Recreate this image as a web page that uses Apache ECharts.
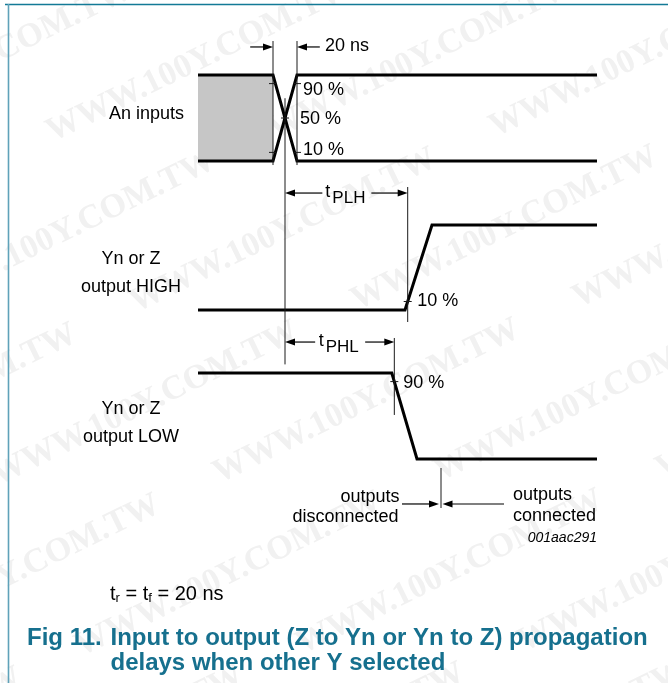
<!DOCTYPE html>
<html>
<head>
<meta charset="utf-8">
<script src="https://cdn.jsdelivr.net/npm/echarts@6/dist/echarts.min.js"></script>
<style>html,body{margin:0;padding:0;background:#fff}#c{width:668px;height:683px}</style>
</head>
<body>
<div id="c"></div>
<script>
// ---------- data (time in ns, level in % of swing) ----------
const timeRange = [-75, 260];
const levelRange = [0, 100];
const inputFallWave = [[-72.5, 100], [-10, 100], [10, 0], [260, 0]];
const inputRiseWave = [[-72.5, 0], [-10, 0], [10, 100], [260, 100]];
const outHighWave   = [[-72.5, 0], [100, 0], [122.5, 100], [260, 100]];
const outLowWave    = [[-72.5, 100], [89, 100], [110, 0], [260, 0]];
const undefinedSpan = [-72.5, -10];
const inputEdgeTimes = [-10, 10];
const inputLevels = [90, 50, 10];
const outHighRef = 10;
const outLowRef = 90;
const switchTime = 130;
const rowLabels = ['An inputs', 'Yn or Z\noutput HIGH', 'Yn or Z\noutput LOW'];
const edgeLabel = '20 ns';

// ---------- layout ----------
const FONT = '"Liberation Sans", Arial, Helvetica, sans-serif';
const gridRows = [{ top: 75, height: 86 }, { top: 225, height: 85 }, { top: 373, height: 86 }];

const chart = echarts.init(document.getElementById('c'));

function crossing(wave, level) {
  for (let i = 0; i < wave.length - 1; i++) {
    const a = wave[i], b = wave[i + 1];
    if (a[1] !== b[1] && (level - a[1]) * (level - b[1]) <= 0) {
      return a[0] + (b[0] - a[0]) * (level - a[1]) / (b[1] - a[1]);
    }
  }
  return null;
}

const waveStyle = { color: '#000', width: 3, join: 'miter' };
const mkLine = (data, gi) => ({
  type: 'line', xAxisIndex: gi, yAxisIndex: gi, data, symbol: 'none', clip: false,
  lineStyle: waveStyle, z: 3, silent: true
});

chart.setOption({
  animation: false,
  backgroundColor: '#fff',
  grid: gridRows.map(g => ({ left: 195, right: 71, top: g.top, height: g.height, containLabel: false })),
  xAxis: gridRows.map((g, i) => ({ type: 'value', gridIndex: i, min: timeRange[0], max: timeRange[1], show: false })),
  yAxis: gridRows.map((g, i) => ({ type: 'value', gridIndex: i, min: levelRange[0], max: levelRange[1], show: false })),
  series: [
    {
      type: 'line', xAxisIndex: 0, yAxisIndex: 0, data: [[undefinedSpan[0], 0]], symbol: 'none',
      lineStyle: { opacity: 0 }, z: 2, silent: true,
      markArea: {
        silent: true, itemStyle: { color: '#c6c6c6' },
        data: [[{ xAxis: undefinedSpan[0], yAxis: 0 }, { xAxis: undefinedSpan[1], yAxis: 100 }]]
      }
    },
    mkLine(inputFallWave, 0),
    mkLine(inputRiseWave, 0),
    mkLine(outHighWave, 1),
    mkLine(outLowWave, 2)
  ]
});

// ---------- annotations through the chart's scales ----------
const P = (g, t, L) => chart.convertToPixel({ gridIndex: g }, [t, L]);
const els = [];
const thin = { stroke: '#1a1a1a', lineWidth: 1 };
function vline(x, y1, y2) { els.push({ type: 'line', z: 100, shape: { x1: x, y1, x2: x, y2 }, style: thin }); }
function tick(x, y) { els.push({ type: 'line', z: 100, shape: { x1: x - 4, y1: y, x2: x + 4, y2: y }, style: thin }); }
function arrow(xTail, xTip, y) {
  const d = Math.sign(xTip - xTail);
  els.push({ type: 'line', z: 100, shape: { x1: xTail, y1: y, x2: xTip - d * 8, y2: y }, style: { stroke: '#000', lineWidth: 1.2 } });
  els.push({ type: 'polygon', z: 100, shape: { points: [[xTip, y], [xTip - d * 10, y - 3.5], [xTip - d * 10, y + 3.5]] }, style: { fill: '#000' } });
}
function txt(s, x, y, extra) {
  els.push({ type: 'text', z: 100, x, y, style: Object.assign({
    text: s, font: '18px ' + FONT, fill: '#000', textAlign: 'left',
    textVerticalAlign: 'middle', verticalAlign: 'middle'
  }, extra || {}) });
}

// watermark (behind, faint), tiled along its own slant
const wmText = 'WWW.100Y.COM.TW';
const th = 26 * Math.PI / 180;
const ux = Math.cos(th), uy = -Math.sin(th), vx = Math.sin(th), vy = Math.cos(th);
for (let j = -4; j < 9; j++) {
  for (let i = -3; i < 4; i++) {
    const a = i * 400 + (j % 2 ? 200 : 0), b = j * 95;
    const cx = 200 + a * ux + b * vx, cy = 60 + a * uy + b * vy;
    if (cx < -250 || cx > 920 || cy < -120 || cy > 800) continue;
    els.push({ type: 'text', z: 0, x: cx, y: cy, rotation: th,
      style: { text: wmText, font: 'bold 34px "Liberation Serif", "DejaVu Serif", serif', fill: '#f1f1f1',
        textAlign: 'center', textVerticalAlign: 'middle', verticalAlign: 'middle' } });
  }
}

// frame
els.push({ type: 'line', z: 100, shape: { x1: 5, y1: 4.5, x2: 668, y2: 4.5 }, style: { stroke: '#137a96', lineWidth: 1.6 } });
els.push({ type: 'line', z: 100, shape: { x1: 8.5, y1: 4, x2: 8.5, y2: 683 }, style: { stroke: '#5fa2b9', lineWidth: 1.6 } });

// input row
const [xe0] = P(0, inputEdgeTimes[0], 0);
const [xe1] = P(0, inputEdgeTimes[1], 0);
const [xmid] = P(0, 0, 0);
const yTop = P(0, 0, 139.5)[1], yBot = P(0, 0, -4.7)[1];
vline(xe0, yTop, yBot);
vline(xe1, yTop, yBot);
const yArrowTop = P(0, 0, 132.6)[1];
arrow(P(0, -29, 0)[0], xe0, yArrowTop);
arrow(P(0, 29, 0)[0], xe1, yArrowTop);
txt(edgeLabel, xe1 + 28, yArrowTop - 0.6);
const y90 = P(0, 0, inputLevels[0])[1], y50 = P(0, 0, inputLevels[1])[1], y10 = P(0, 0, inputLevels[2])[1];
tick(xe0, y90); tick(xe1, y90); tick(xmid, y50); tick(xe0, y10); tick(xe1, y10);
txt(inputLevels[0] + ' %', xe1 + 6, y90 + 6);
txt(inputLevels[1] + ' %', xmid + 15, y50 + 1.5);
txt(inputLevels[2] + ' %', xe1 + 6, y10 - 2);
txt(rowLabels[0], 184, 114, { textAlign: 'right' });

// middle 50% reference line
vline(xmid, P(0, 0, 73)[1], P(2, 0, 110)[1]);

// output HIGH row
const tPLH = crossing(outHighWave, outHighRef);
const [xPLH, yPLH10] = P(1, tPLH, outHighRef);
vline(xPLH, P(1, 0, 144.7)[1], P(1, 0, -14.1)[1]);
tick(xPLH, yPLH10);
txt(outHighRef + ' %', xPLH + 9.5, yPLH10);
const yPLHArrow = P(1, 0, 137.6)[1];
const mPLH = (xmid + xPLH) / 2;
arrow(mPLH - 24, xmid, yPLHArrow);
arrow(mPLH + 25, xPLH, yPLHArrow);
txt('t', mPLH - 21, yPLHArrow - 1);
txt('PLH', mPLH - 14, yPLHArrow + 5, { font: '17px ' + FONT });
const rl1 = rowLabels[1].split('\n');
txt(rl1[0], 131, 259.5, { textAlign: 'center' });
txt(rl1[1], 131, 287, { textAlign: 'center' });

// output LOW row
const tPHL = crossing(outLowWave, outLowRef);
const [xPHL, yPHL90] = P(2, tPHL, outLowRef);
vline(xPHL, P(2, 0, 140.7)[1], P(2, 0, 51.2)[1]);
tick(xPHL, yPHL90);
txt(outLowRef + ' %', xPHL + 9, yPHL90 + 1.4);
const yPHLArrow = P(2, 0, 136)[1];
const mPHL = (xmid + xPHL) / 2;
arrow(mPHL - 24.5, xmid, yPHLArrow);
arrow(mPHL + 25.5, xPHL, yPHLArrow);
txt('t', mPHL - 21, yPHLArrow - 1.5);
txt('PHL', mPHL - 14, yPHLArrow + 5, { font: '17px ' + FONT });
const rl2 = rowLabels[2].split('\n');
txt(rl2[0], 131, 409.5, { textAlign: 'center' });
txt(rl2[1], 131, 437, { textAlign: 'center' });

// outputs disconnected / connected
const [xSw] = P(2, switchTime, 0);
vline(xSw, P(2, 0, -10.5)[1], P(2, 0, -57)[1]);
const ySwArrow = P(2, 0, -52.3)[1];
arrow(xSw - 39, xSw - 2, ySwArrow);
arrow(xSw + 63, xSw + 1.5, ySwArrow);
txt('outputs', xSw - 41.5, 497, { textAlign: 'right' });
txt('disconnected', xSw - 42.5, 517, { textAlign: 'right' });
txt('outputs', xSw + 72, 495.3);
txt('connected', xSw + 72, 516.3);
txt('001aac291', 597, 538, { textAlign: 'right', font: 'italic 14px ' + FONT });

// rise/fall note
els.push({ type: 'text', z: 100, x: 110, y: 594, style: {
  text: '{m|t}{s|r}{m| = t}{s|f}{m| = 20 ns}',
  textAlign: 'left', textVerticalAlign: 'middle', verticalAlign: 'middle',
  rich: { m: { font: '20px ' + FONT, fill: '#000' }, s: { font: '13px ' + FONT, fill: '#000', padding: [9, 0, 0, 0] } }
} });

// caption
const capColor = '#16708e';
txt('Fig 11.', 27, 638.4, { font: 'bold 24px ' + FONT, fill: capColor });
txt('Input to output (Z to Yn or Yn to Z) propagation', 110.5, 638.4, { font: 'bold 24px ' + FONT, fill: capColor });
txt('delays when other Y selected', 110.5, 663.4, { font: 'bold 24px ' + FONT, fill: capColor });

chart.setOption({ graphic: { elements: els } });
</script>
</body>
</html>
